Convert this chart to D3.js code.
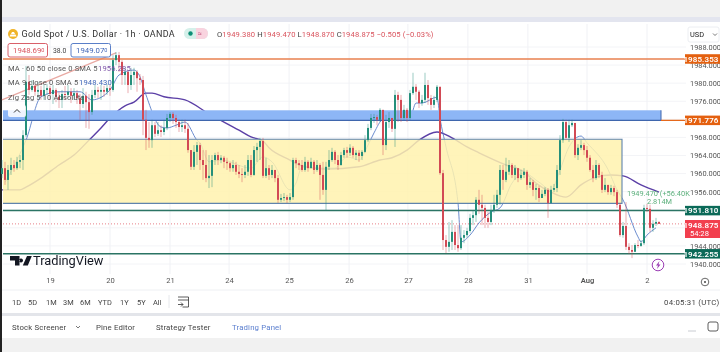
<!DOCTYPE html>
<meta charset="utf-8">
<style>
html,body{margin:0;padding:0;background:#f1f1f1;overflow:hidden}
svg{display:block;filter:blur(.3px)}
text{font-family:Roboto,sans-serif}
</style>
<body>
<script src="https://cdn.jsdelivr.net/npm/d3@7"></script>
<script>
// hourly candles. open is the previous close
var closes = [
1961.2,1958.6,1960.8,1961.9,1961.2,1962.6,1963.0,1968.5,1980.3,1978.5,
1979.4,1978.1,1978.5,1977.2,1978.5,1978.9,1977.6,1978.5,1977.0,1976.3,
1977.6,1977.4,1978.1,1977.2,1977.8,1976.7,1975.4,1977.2,1975.8,1973.6,
1977.4,1978.5,1978.1,1978.5,1978.1,1978.9,1978.5,1985.1,1986.2,1984.7,
1981.8,1982.5,1979.6,1981.8,1982.5,1981.1,1980.7,1971.9,1967.9,1967.4,
1970.7,1968.8,1969.6,1969.2,1970.1,1972.3,1973.2,1972.3,1971.4,1970.3,
1970.7,1969.9,1965.2,1961.5,1964.8,1966.3,1963.0,1961.9,1959.0,1959.5,
1963.0,1964.1,1963.0,1963.5,1962.6,1962.3,1961.2,1961.9,1960.4,1959.9,
1959.7,1960.4,1963.0,1959.7,1965.2,1965.9,1967.2,1959.5,1961.2,1959.7,
1960.8,1959.0,1954.2,1954.6,1954.8,1954.2,1954.8,1963.0,1962.3,1961.9,
1960.8,1962.6,1961.2,1962.6,1960.8,1961.9,1959.7,1956.4,1961.5,1963.0,
1964.8,1963.0,1961.9,1964.1,1965.2,1964.6,1965.7,1964.1,1964.6,1963.9,
1964.8,1967.4,1970.1,1972.3,1972.5,1971.9,1974.1,1966.3,1971.4,1972.3,
1969.9,1977.4,1976.3,1972.3,1974.1,1972.3,1977.8,1979.2,1978.1,1975.6,
1976.3,1979.6,1976.7,1975.2,1976.3,1979.2,1960.1,1945.3,1943.8,1944.9,
1947.1,1944.2,1943.5,1945.8,1946.4,1947.3,1950.2,1950.8,1954.2,1953.1,
1952.4,1950.2,1949.3,1951.9,1953.1,1955.3,1960.8,1958.6,1960.4,1961.9,
1959.7,1961.2,1959.0,1959.7,1960.4,1957.5,1958.1,1956.4,1956.8,1954.6,
1955.5,1956.4,1953.5,1956.4,1956.8,1960.8,1967.4,1971.4,1967.9,1970.7,
1971.2,1964.1,1965.7,1966.3,1965.2,1963.5,1960.8,1959.0,1961.9,1959.7,
1956.4,1957.5,1955.9,1956.8,1955.9,1953.1,1946.4,1948.4,1943.8,1943.1,
1942.7,1944.2,1944.0,1944.6,1952.4,1952.2,1948.0,1948.9,1949.3,1948.875];
var highs = [
1963.0,1962.6,1961.9,1963.5,1963.0,1963.7,1964.1,1969.6,1983.8,1981.8,
1980.7,1979.8,1980.3,1979.4,1979.6,1979.8,1979.4,1979.6,1978.9,1978.1,
1978.5,1979.4,1979.6,1978.9,1978.9,1978.5,1977.6,1978.9,1978.1,1977.6,
1978.5,1979.6,1979.2,1979.6,1979.4,1979.8,1979.6,1986.2,1986.9,1986.9,
1985.1,1983.4,1982.9,1983.4,1983.4,1982.9,1982.0,1981.6,1974.1,1971.4,
1971.9,1971.4,1971.4,1970.7,1971.9,1973.2,1973.6,1973.6,1973.0,1971.9,
1971.9,1971.9,1971.2,1965.2,1966.3,1967.0,1966.8,1965.2,1965.2,1964.1,
1964.1,1964.6,1964.8,1964.1,1963.9,1963.5,1962.6,1963.0,1962.6,1961.9,
1961.2,1961.9,1964.1,1964.1,1966.1,1966.8,1967.9,1967.9,1963.5,1961.9,
1961.9,1960.8,1959.7,1955.5,1955.7,1955.3,1955.7,1963.5,1963.5,1963.0,
1963.0,1963.7,1963.0,1963.5,1963.0,1963.0,1962.3,1962.6,1962.6,1965.2,
1965.7,1965.2,1964.1,1964.8,1965.7,1965.9,1966.5,1966.1,1965.2,1965.2,
1965.2,1968.5,1971.0,1973.2,1973.2,1973.0,1974.5,1972.3,1973.0,1973.6,
1972.3,1978.5,1978.1,1977.4,1975.2,1974.5,1978.5,1982.3,1979.8,1978.5,
1977.4,1982.3,1980.7,1977.4,1977.2,1979.6,1979.2,1960.8,1946.4,1949.3,
1949.7,1948.6,1948.6,1948.6,1947.5,1948.0,1951.1,1951.9,1954.8,1956.4,
1955.3,1953.1,1951.5,1953.1,1955.3,1956.4,1961.9,1961.9,1963.5,1963.0,
1962.3,1961.9,1961.2,1960.8,1961.2,1960.8,1959.0,1958.6,1957.7,1957.3,
1956.4,1957.0,1956.8,1957.3,1957.7,1961.9,1968.5,1972.1,1971.9,1971.9,
1971.9,1971.2,1966.5,1967.4,1966.8,1966.1,1964.1,1961.9,1963.0,1962.3,
1960.4,1959.0,1957.3,1957.5,1957.3,1956.4,1953.5,1949.3,1953.7,1944.6,
1944.2,1944.6,1945.3,1945.3,1953.1,1953.3,1953.1,1949.7,1950.2,1949.47];
var lows = [
1959.0,1957.5,1956.4,1959.7,1960.4,1960.8,1961.2,1960.8,1968.1,1977.4,
1978.1,1977.2,1976.7,1976.3,1976.3,1977.4,1976.3,1975.4,1975.8,1974.5,
1974.5,1976.3,1976.7,1975.6,1976.3,1975.4,1971.9,1974.5,1970.1,1969.9,
1973.0,1976.7,1976.7,1976.3,1977.0,1977.4,1977.2,1978.1,1984.0,1982.5,
1979.6,1979.6,1977.8,1978.5,1979.6,1978.1,1979.6,1968.5,1965.2,1965.7,
1965.7,1968.1,1968.3,1968.1,1968.5,1969.6,1971.4,1971.0,1970.1,1969.2,
1969.2,1969.0,1964.6,1960.8,1960.8,1961.9,1960.8,1958.6,1958.1,1956.8,
1957.0,1961.9,1961.9,1962.3,1961.2,1960.8,1960.4,1960.4,1959.7,1959.0,
1958.1,1959.0,1959.5,1959.2,1959.5,1962.6,1963.0,1959.0,1959.0,1958.6,
1959.0,1958.1,1953.5,1953.7,1953.9,1953.5,1953.7,1954.2,1961.2,1960.8,
1960.4,1960.4,1960.4,1961.2,1959.9,1960.4,1954.2,1955.3,1951.9,1960.8,
1962.6,1962.1,1960.8,1961.7,1963.5,1963.5,1963.9,1963.5,1963.0,1962.6,
1963.0,1964.6,1967.0,1969.6,1971.2,1970.7,1971.4,1964.1,1965.2,1970.1,
1969.2,1965.9,1971.4,1971.4,1971.9,1971.4,1971.9,1977.4,1976.3,1974.5,
1975.0,1975.6,1975.2,1974.1,1974.5,1975.8,1959.7,1943.1,1942.4,1942.7,
1943.1,1943.1,1942.7,1943.1,1944.6,1945.8,1946.9,1948.6,1949.3,1951.1,
1948.6,1948.0,1948.0,1948.6,1951.3,1952.4,1953.1,1956.4,1958.1,1959.7,
1959.0,1958.6,1958.1,1958.6,1959.0,1956.4,1956.8,1955.0,1954.2,1953.7,
1954.6,1955.0,1950.2,1953.3,1955.9,1955.9,1959.7,1966.8,1967.4,1967.0,
1970.3,1963.5,1963.0,1965.2,1964.1,1962.6,1960.4,1958.1,1958.6,1959.0,
1955.7,1955.9,1955.3,1955.3,1955.0,1952.4,1946.0,1945.8,1943.1,1942.2,
1941.3,1942.7,1943.5,1943.8,1944.2,1951.5,1947.1,1947.1,1948.4,1948.87];

var ma60Bars = [0,6,8,13,19,24,29,33,36,41,44,48,50,54,61,69,79,83,87,89,96,99,104,108,119,126,130,135,139,145,150,155,159,168,174,178,183,188,193,198,203,207,213,219];
var ma60Vals = [1956.4,1956.4,1957.0,1959.0,1961.9,1964.1,1967.4,1970.1,1972.3,1975.0,1975.8,1977.8,1977.8,1977.0,1976.3,1973.2,1969.6,1968.1,1967.2,1965.7,1963.0,1961.9,1961.2,1961.0,1961.5,1963.0,1963.5,1965.2,1967.4,1969.2,1967.9,1965.9,1964.6,1961.9,1960.4,1957.9,1955.9,1954.8,1957.5,1959.2,1959.7,1959.5,1957.5,1955.9];
var ma9Bars = [1,5,8,13,19,26,30,36,39,44,46,48,53,55,58,61,65,66,69,73,83,87,90,96,98,100,107,111,115,119,122,124,127,132,136,138,140,145,146,148,152,153,156,159,163,166,170,174,179,183,186,189,193,195,202,205,207,212,213,215,218];
var ma9Vals = [1958.1,1963.0,1967.4,1977.0,1978.1,1978.1,1976.3,1978.5,1981.8,1982.9,1981.4,1977.4,1970.3,1970.1,1970.7,1971.4,1967.4,1966.8,1962.6,1963.0,1961.2,1963.7,1962.6,1956.4,1957.9,1961.5,1961.2,1961.2,1963.7,1963.0,1966.3,1969.0,1971.9,1971.9,1972.3,1975.6,1975.6,1976.9,1972.3,1965.9,1953.5,1944.9,1946.4,1949.1,1951.5,1952.4,1957.9,1960.1,1958.1,1956.4,1960.8,1965.9,1968.3,1966.8,1960.9,1956.4,1954.2,1946.0,1944.9,1946.4,1948.0];
var zigBars = [0,38];
var zigVals = [1976.3,1986.7];

var priceTicks = [1988,1984,1980,1976,1968,1964,1960,1956,1944,1940];
var gridPrices = [1988,1984,1980,1976,1972,1968,1964,1960,1956,1952,1948,1944,1940];
var dayLabels = ["19","20","21","24","25","26","27","28","31","Aug","2"];
var dayBars = [16,36,56,75.7,95.7,115.7,135.3,155.3,175.3,195,215];

var supportLevel = 1942.255, resistLevel = 1951.81, orangeLevel = 1985.353, bandLevel = 1971.776, lastPrice = 1948.875;
var bandTop = 1974.0, boxTop = 1967.6, boxBottom = 1953.4;
var rangeLabels = ["1D","5D","1M","3M","6M","YTD","1Y","5Y","All"];
var rangeX = [12,28,46,63,80,98,120,137,153];
var panelLabels = ["Stock Screener","Pine Editor","Strategy Tester","Trading Panel"];
var panelX = [12,96,156,232];

var width = 720, height = 352;
var up = "#258f7b", down = "#d24a55", orange = "#e4600f", teal = "#0b6a58";

var svg = d3.select("body").append("svg").attr("width", width).attr("height", height);

var x = d3.scaleLinear().domain([0, 219]).range([2, 659]);
var y = d3.scaleLinear().domain([1940, 1988]).range([264, 47]);
var chartRight = 686;

// page frame
svg.append("rect").attr("x", 2).attr("y", 20).attr("width", 718).attr("height", 318).attr("fill", "white");
svg.append("rect").attr("x", 2).attr("y", 17).attr("width", 718).attr("height", 5).attr("fill", "#e3e5ef");
svg.append("rect").attr("x", 2).attr("y", 313).attr("width", 718).attr("height", 3).attr("fill", "#e3e5ea");
svg.append("rect").attr("x", 0).attr("y", 0).attr("width", 2).attr("height", height).attr("fill", "#222");
svg.append("line").attr("x1", 2).attr("x2", 720).attr("y1", 290).attr("y2", 290).attr("stroke", "#eef0f3");

// grid
svg.append("g").selectAll("line").data(gridPrices).enter().append("line")
  .attr("x1", 3).attr("x2", chartRight).attr("y1", d => y(d)).attr("y2", d => y(d))
  .attr("stroke", "#f3f4f7");
svg.append("g").selectAll("line").data(dayBars).enter().append("line")
  .attr("y1", 24).attr("y2", 274).attr("x1", d => x(d)).attr("x2", d => x(d))
  .attr("stroke", "#f0f1f5");

// moving averages sit under the drawn rectangles, that's why they go tan in the yellow box
var line = d3.line().x(d => x(d[0])).y(d => y(d[1]));
svg.append("path").datum(d3.zip(zigBars, zigVals)).attr("d", line)
  .attr("fill", "none").attr("stroke", "#e9a9a3").attr("stroke-width", 1.2);
svg.append("path").datum(d3.zip(ma60Bars, ma60Vals)).attr("d", line.curve(d3.curveMonotoneX))
  .attr("fill", "none").attr("stroke", "#5b3fa6").attr("stroke-width", 1.4);
svg.append("path").datum(d3.zip(ma9Bars, ma9Vals)).attr("d", line)
  .attr("fill", "none").attr("stroke", "#5a7fc8").attr("stroke-width", 0.9);

// box and band
svg.append("rect").attr("x", 3).attr("width", 619).attr("y", y(boxTop)).attr("height", y(boxBottom) - y(boxTop))
  .attr("fill", "#fff2ae").attr("fill-opacity", 0.85);
svg.append("path").attr("d", "M3," + y(boxTop) + "H622V" + y(boxBottom) + "H3")
  .attr("fill", "none").attr("stroke", "#5f84ad").attr("stroke-width", 1.1);
svg.append("rect").attr("x", 3).attr("width", 658).attr("y", y(bandTop)).attr("height", y(bandLevel) - y(bandTop))
  .attr("fill", "#8db6f6");
svg.append("line").attr("x1", 3).attr("x2", 661).attr("y1", y(bandLevel)).attr("y2", y(bandLevel))
  .attr("stroke", "#3f66ad").attr("stroke-width", 1.2);
svg.append("line").attr("x1", 661).attr("x2", 661).attr("y1", y(bandTop)).attr("y2", y(bandLevel))
  .attr("stroke", "#3f66ad");
svg.append("line").attr("x1", 661).attr("x2", chartRight).attr("y1", y(bandLevel)).attr("y2", y(bandLevel))
  .attr("stroke", orange).attr("stroke-width", 1.2);

// level lines
svg.append("line").attr("x1", 3).attr("x2", chartRight).attr("y1", y(orangeLevel)).attr("y2", y(orangeLevel))
  .attr("stroke", "#e9814f").attr("stroke-width", 1.5);
[resistLevel, supportLevel].forEach(function(d) {
  svg.append("line").attr("x1", 3).attr("x2", chartRight).attr("y1", y(d)).attr("y2", y(d))
    .attr("stroke", "#2b7464").attr("stroke-width", 1.5);
});
svg.append("line").attr("x1", 3).attr("x2", chartRight).attr("y1", y(lastPrice)).attr("y2", y(lastPrice))
  .attr("stroke", "#e0606a").attr("stroke-width", 0.8).attr("stroke-dasharray", "1 2");

// candles
var candles = closes.map(function(c, i) {
  return { i: i, open: i ? closes[i - 1] : 1959.9, close: c, high: highs[i], low: lows[i] };
});
var candle = svg.append("g").selectAll("g").data(candles).enter().append("g")
  .attr("stroke", d => d.close >= d.open ? up : down)
  .attr("fill", d => d.close >= d.open ? up : down);
candle.append("line").attr("x1", d => x(d.i)).attr("x2", d => x(d.i))
  .attr("y1", d => y(d.high)).attr("y2", d => y(d.low)).attr("stroke-width", 0.7).attr("stroke-opacity", 0.65);
candle.append("rect").attr("x", d => x(d.i) - 1).attr("width", 2).attr("stroke", "none")
  .attr("y", d => y(Math.max(d.open, d.close)))
  .attr("height", d => Math.max(1, Math.abs(y(d.open) - y(d.close))));

// price axis
var yAxis = svg.append("g").attr("transform", "translate(686,0)")
  .call(d3.axisRight(y).tickValues(priceTicks).tickSize(0).tickPadding(4).tickFormat(d3.format(".3f")));
yAxis.select(".domain").remove();
yAxis.selectAll("text").attr("font-size", 7.4).attr("fill", "#555").attr("font-family", "Roboto,sans-serif");

// time axis
var xAxis = svg.append("g").attr("transform", "translate(0,277)")
  .call(d3.axisBottom(x).tickValues(dayBars).tickSize(0).tickPadding(1).tickFormat((d, i) => dayLabels[i]));
xAxis.select(".domain").remove();
xAxis.selectAll("text").attr("font-size", 7.6).attr("fill", "#555").attr("font-family", "Roboto,sans-serif")
  .attr("font-weight", d => d === 195 ? 600 : 400);

// price tags
function tag(v, fill, h) {
  svg.append("rect").attr("x", 685).attr("y", y(v) - h / 2).attr("width", 35).attr("height", h).attr("fill", fill);
  svg.append("text").attr("x", 718.5).attr("y", y(v) + 2.8).attr("text-anchor", "end")
    .attr("font-size", 8).attr("font-weight", 600).attr("letter-spacing", 0.1).attr("fill", "white").text(v.toFixed(3));
}
tag(orangeLevel, orange, 9.5);
tag(bandLevel, orange, 9.5);
tag(resistLevel, teal, 9.5);
tag(supportLevel, teal, 9.5);
svg.append("rect").attr("x", 685).attr("y", 220).attr("width", 35).attr("height", 18).attr("fill", "#f23f4e");
svg.append("text").attr("x", 718.5).attr("y", 228).attr("text-anchor", "end").attr("font-size", 8).attr("font-weight", 600).attr("letter-spacing", 0.1).attr("fill", "white").text("1948.875");
svg.append("text").attr("x", 690).attr("y", 236).attr("font-size", 7.6).attr("fill", "white").text("54:28");

// volume note
svg.append("text").attr("x", 627).attr("y", 196).attr("font-size", 7.4).attr("fill", "#5cb07c").text("1949.470 (+56.40K");
svg.append("text").attr("x", 647).attr("y", 204).attr("font-size", 7.4).attr("fill", "#5cb07c").text("2.814M");

// header
svg.append("circle").attr("cx", 13).attr("cy", 34).attr("r", 5).attr("fill", "#f0b429");
svg.append("path").attr("d", "M9.5,36.5h7l-1,-2h-5zM11,34h4l-1,-2h-2z").attr("fill", "white");
svg.append("text").attr("x", 21.5).attr("y", 37).attr("font-size", 9).attr("fill", "#333").attr("letter-spacing", 0.3)
  .text("Gold Spot / U.S. Dollar · 1h · OANDA");
svg.append("rect").attr("x", 184).attr("y", 28).attr("width", 24).attr("height", 11).attr("rx", 5.5).attr("fill", "#d5f0ea");
svg.append("path").attr("d", "M196,28h6.5a5.5,5.5 0 0 1 0,11h-6.5z").attr("fill", "#f9d3df");
svg.append("circle").attr("cx", 190.5).attr("cy", 33.5).attr("r", 2.2).attr("fill", "#0c8f76");
svg.append("text").attr("x", 198).attr("y", 36).attr("font-size", 7).attr("fill", "#c2557e").text("≈");
var ohlc = svg.append("text").attr("x", 217).attr("y", 37).attr("font-size", 7.6).attr("letter-spacing", 0.12).attr("fill", "#d9535d");
[["O", "1949.380 "], ["H", "1949.470 "], ["L", "1948.870 "], ["C", "1948.875 "]].forEach(function(p) {
  ohlc.append("tspan").attr("fill", "#444").text(p[0]);
  ohlc.append("tspan").text(p[1]);
});
ohlc.append("tspan").text("−0.505 (−0.03%)");

svg.append("rect").attr("x", 8).attr("y", 43.5).attr("width", 39.5).attr("height", 13.5).attr("rx", 2).attr("fill", "white").attr("stroke", "#d9606a");
svg.append("text").attr("x", 13).attr("y", 53).attr("font-size", 7.8).attr("fill", "#d9535d").text("1948.69").append("tspan").attr("font-size", 5.5).attr("dy", -1.5).text("0");
svg.append("text").attr("x", 53).attr("y", 53).attr("font-size", 6.8).attr("fill", "#444").text("38.0");
svg.append("rect").attr("x", 71).attr("y", 43.5).attr("width", 39.5).attr("height", 13.5).attr("rx", 2).attr("fill", "white").attr("stroke", "#5a7fc8");
svg.append("text").attr("x", 76).attr("y", 53).attr("font-size", 7.8).attr("fill", "#3f66b8").text("1949.07").append("tspan").attr("font-size", 5.5).attr("dy", -1.5).text("0");

// indicator legend
var legend = svg.append("g").attr("font-size", 7.6).attr("fill", "#555").attr("letter-spacing", 0.12);
legend.append("text").attr("x", 8).attr("y", 71).text("MA · 60 50 close 0 SMA 5");
legend.append("text").attr("x", 98).attr("y", 71).attr("fill", "#7a4fa6").text("1956.285");
legend.append("text").attr("x", 8).attr("y", 85).text("MA 9 close 0 SMA 5");
legend.append("text").attr("x", 79).attr("y", 85).attr("fill", "#3f66b8").text("1948.430");
legend.append("text").attr("x", 8).attr("y", 100).text("Zig Zag 5 10 Absolute");
svg.append("rect").attr("x", 8).attr("y", 105).attr("width", 18).attr("height", 12).attr("rx", 2).attr("fill", "white").attr("fill-opacity", 0.85);
svg.append("path").attr("d", "M14,112.5l3,-3l3,3").attr("fill", "none").attr("stroke", "#333");

// USD select
svg.append("rect").attr("x", 688).attr("y", 27).attr("width", 31).attr("height", 15).attr("rx", 2).attr("fill", "white").attr("stroke", "#eceef2");
svg.append("text").attr("x", 690).attr("y", 37).attr("font-size", 7.4).attr("fill", "#222").text("USD");
svg.append("path").attr("d", "M713,33.5l2,2l2,-2").attr("fill", "none").attr("stroke", "#555").attr("stroke-width", 0.8);

// tradingview mark
svg.append("path").attr("d", "M10,256h9.5v9.5h-4.5v-5h-5zM21,258.5a2,2 0 1 0 0.01,0zM27,256h4.8l-4,9.5h-5z").attr("fill", "#131722");
svg.append("text").attr("x", 33).attr("y", 265).attr("font-size", 12.8).attr("fill", "#131722").text("TradingView");

// lightning button
svg.append("circle").attr("cx", 658).attr("cy", 265).attr("r", 5.8).attr("fill", "white").attr("stroke", "#9c3fb5").attr("stroke-width", 1);
svg.append("path").attr("d", "M659.5,261l-3.5,4.6h2l-1,3.4l3.5,-4.6h-2z").attr("fill", "#9c3fb5");
svg.append("circle").attr("cx", 705).attr("cy", 282).attr("r", 3.8).attr("fill", "none").attr("stroke", "#444").attr("stroke-width", 0.8);
svg.append("circle").attr("cx", 705).attr("cy", 282).attr("r", 1).attr("fill", "#444");

// range bar
svg.append("g").selectAll("text").data(rangeLabels).enter().append("text")
  .attr("x", (d, i) => rangeX[i]).attr("y", 305).attr("font-size", 7.4).attr("fill", "#444").text(d => d);
svg.append("line").attr("x1", 169).attr("x2", 169).attr("y1", 295).attr("y2", 308).attr("stroke", "#e6e8ec");
svg.append("path").attr("d", "M178,297h10.5v10h-6M178,300h10.5M178,304.5h5M181,302.5l2,2l-2,2").attr("fill", "none").attr("stroke", "#333").attr("stroke-width", 0.8);
svg.append("text").attr("x", 719.5).attr("y", 305).attr("text-anchor", "end").attr("font-size", 7.8).attr("letter-spacing", 0.25).attr("fill", "#444").text("04:05:31 (UTC)");

// bottom panel tabs
svg.append("g").selectAll("text").data(panelLabels).enter().append("text")
  .attr("x", (d, i) => panelX[i]).attr("y", 330).attr("font-size", 7.8).attr("letter-spacing", 0.15)
  .attr("fill", (d, i) => i === 3 ? "#5b7fcf" : "#444").text(d => d);
svg.append("path").attr("d", "M76,326l2,2l2,-2").attr("fill", "none").attr("stroke", "#555").attr("stroke-width", 0.8);
svg.append("line").attr("x1", 688).attr("x2", 696).attr("y1", 331).attr("y2", 331).attr("stroke", "#c9ccd2");
svg.append("rect").attr("x", 708).attr("y", 322).attr("width", 10).attr("height", 9).attr("rx", 2).attr("fill", "none").attr("stroke", "#333").attr("stroke-width", 0.8);
</script>
</body>
